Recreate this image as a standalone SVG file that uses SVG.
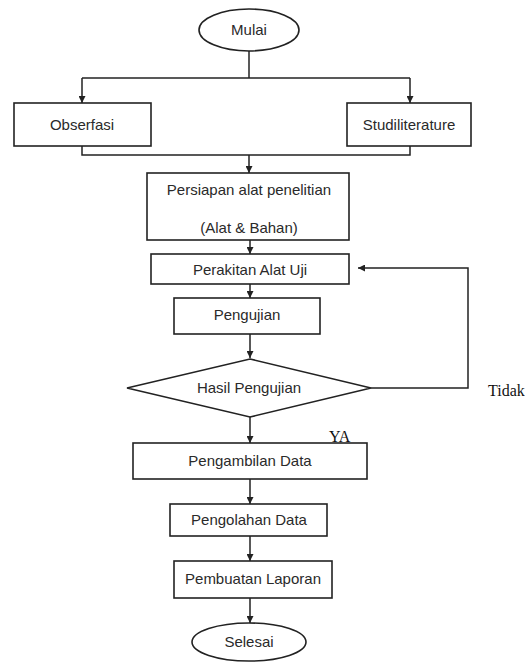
<svg xmlns="http://www.w3.org/2000/svg" width="525" height="662" viewBox="0 0 525 662">
<style>
.box{fill:#fff;stroke:#222;stroke-width:1.6}
.ln{fill:none;stroke:#222;stroke-width:1.5}
.t{font-family:"Liberation Sans",Arial,sans-serif;font-size:15px;fill:#2a2a2a;text-anchor:middle}
.s{font-family:"Liberation Serif","Times New Roman",serif;font-size:16px;fill:#111}
</style>
<defs>
<marker id="ah" viewBox="0 0 10 10" refX="10" refY="5" markerWidth="7" markerHeight="7" markerUnits="userSpaceOnUse" orient="auto">
<path d="M0,0 L10,5 L0,10 z" fill="#222"/>
</marker>
</defs>
<rect width="525" height="662" fill="#fff"/>
<g id="connectors">
<path class="ln" d="M249,51 V78"/>
<path class="ln" d="M82,78 H410"/>
<path class="ln" d="M82,78 V103" marker-end="url(#ah)"/>
<path class="ln" d="M410,78 V103" marker-end="url(#ah)"/>
<path class="ln" d="M82,146 V155 H410 V146"/>
<path class="ln" d="M249,155 V173" marker-end="url(#ah)"/>
<path class="ln" d="M250,240 V254" marker-end="url(#ah)"/>
<path class="ln" d="M250,284 V298" marker-end="url(#ah)"/>
<path class="ln" d="M250,334 V358" marker-end="url(#ah)"/>
<path class="ln" d="M371,388 H468 V268 H358" marker-end="url(#ah)"/>
<path class="ln" d="M250,417 V443" marker-end="url(#ah)"/>
<path class="ln" d="M250,479 V504" marker-end="url(#ah)"/>
<path class="ln" d="M250,536 V561" marker-end="url(#ah)"/>
<path class="ln" d="M250,598 V623" marker-end="url(#ah)"/>
</g>
<g id="mulai">
<ellipse class="box" cx="249" cy="30" rx="50" ry="21"/>
<text class="t" x="249" y="35">Mulai</text>
</g>
<g id="obserfasi">
<rect class="box" x="14" y="103" width="137" height="43"/>
<text class="t" x="82" y="130">Obserfasi</text>
</g>
<g id="studiliterature">
<rect class="box" x="347" y="103" width="124" height="43"/>
<text class="t" x="409" y="130">Studiliterature</text>
</g>
<g id="persiapan">
<rect class="box" x="147" y="173" width="202" height="67"/>
<text class="t" x="249" y="195">Persiapan alat penelitian</text>
<text class="t" x="249" y="233">(Alat &amp; Bahan)</text>
</g>
<g id="perakitan">
<rect class="box" x="151" y="254" width="198" height="30"/>
<text class="t" x="250" y="275">Perakitan Alat Uji</text>
</g>
<g id="pengujian">
<rect class="box" x="174" y="298" width="146" height="36"/>
<text class="t" x="247" y="320">Pengujian</text>
</g>
<g id="hasil">
<polygon class="box" points="250,359 371,388 250,417 127,388"/>
<text class="t" x="249" y="393">Hasil Pengujian</text>
</g>
<g id="label-tidak">
<text class="s" x="488" y="396" font-size="17.5">Tidak</text>
</g>
<g id="label-ya">
<text class="s" x="329" y="442">YA</text>
</g>
<g id="pengambilan">
<rect class="box" x="133" y="443" width="234" height="36"/>
<text class="t" x="250" y="466">Pengambilan Data</text>
</g>
<g id="pengolahan">
<rect class="box" x="170" y="504" width="157" height="32"/>
<text class="t" x="249" y="525">Pengolahan Data</text>
</g>
<g id="pembuatan">
<rect class="box" x="174" y="561" width="158" height="37"/>
<text class="t" x="253" y="584">Pembuatan Laporan</text>
</g>
<g id="selesai">
<ellipse class="box" cx="249" cy="642" rx="57" ry="19"/>
<text class="t" x="249" y="647">Selesai</text>
</g>
</svg>
